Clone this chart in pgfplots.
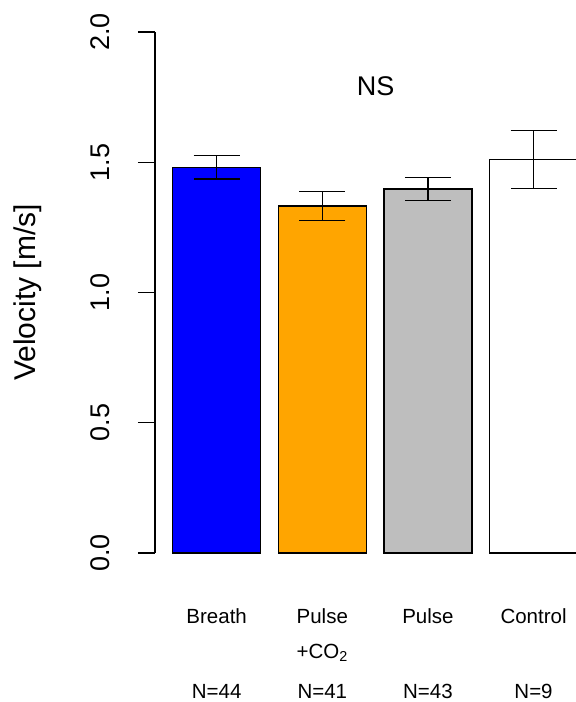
\documentclass[border=0pt]{standalone}
\usepackage{pgfplots}
\pgfplotsset{compat=1.18}
\usepackage{fontspec}
\setmainfont{Liberation Sans}
\definecolor{rorange}{HTML}{FFA500}
\definecolor{rgray}{HTML}{BEBEBE}
\begin{document}
\begin{tikzpicture}[x=1pt,y=1pt]
\useasboundingbox (0,0) rectangle (576,702);
\begin{axis}[
  at={(155pt,149pt)}, anchor=south west,
  scale only axis, width=421pt, height=521pt,
  xmin=-0.584, xmax=3.402, ymin=0, ymax=2,
  clip=false,
  axis x line=none,
  axis y line*=left,
  axis line style={line width=1.3pt},
  ytick={0,0.5,1,1.5,2},
  yticklabels={0.0,0.5,1.0,1.5,2.0},
  major tick length=17pt,
  tick align=outside,
  tick style={line width=1.3pt, black},
  /pgf/number format/assume math mode=true,
  yticklabel style={rotate=90, anchor=base, yshift=28pt, inner sep=0pt, font=\fontsize{27}{30}\selectfont},
  ylabel={Velocity [m/s]},
  ylabel style={at={(axis description cs:-0.284,0.5)}, anchor=base, rotate=0, inner sep=0pt, font=\fontsize{30}{33}\selectfont},
  bar width=0.833,
  error bars/y dir=both, error bars/y explicit,
  error bars/error mark=|,
  error bars/error mark options={mark size=23pt, line width=1.3pt, black},
  error bars/error bar style={line width=1.3pt, black},
]
\addplot[ybar, bar shift=0pt, fill=blue, draw=black, line width=1.3pt] coordinates {(0,1.481) +- (0,0.045)};
\addplot[ybar, bar shift=0pt, fill=rorange, draw=black, line width=1.3pt] coordinates {(1,1.332) +- (0,0.056)};
\addplot[ybar, bar shift=0pt, fill=rgray, draw=black, line width=1.3pt] coordinates {(2,1.397) +- (0,0.044)};
\addplot[ybar, bar shift=0pt, fill=white, draw=black, line width=1.3pt] coordinates {(3,1.510) +- (0,0.112)};
\node[anchor=base, font=\fontsize{27}{30}\selectfont] at (axis cs:1.504,1.757) {NS};
\node[anchor=base, font=\fontsize{20.5}{24}\selectfont] at ([yshift=-70.3pt]axis cs:0,0) {Breath};
\node[anchor=base, font=\fontsize{20.5}{24}\selectfont] at ([yshift=-70.3pt]axis cs:1,0) {Pulse};
\node[anchor=base, font=\fontsize{20.5}{24}\selectfont] at ([yshift=-70.3pt]axis cs:2,0) {Pulse};
\node[anchor=base, font=\fontsize{20.5}{24}\selectfont] at ([yshift=-70.3pt]axis cs:3,0) {Control};
\node[anchor=base, font=\fontsize{20.5}{24}\selectfont] at ([yshift=-105pt]axis cs:1,0) {+CO\textsubscript{2}};
\node[anchor=base, font=\fontsize{20.5}{24}\selectfont] at ([yshift=-145pt]axis cs:0,0) {N=44};
\node[anchor=base, font=\fontsize{20.5}{24}\selectfont] at ([yshift=-145pt]axis cs:1,0) {N=41};
\node[anchor=base, font=\fontsize{20.5}{24}\selectfont] at ([yshift=-145pt]axis cs:2,0) {N=43};
\node[anchor=base, font=\fontsize{20.5}{24}\selectfont] at ([yshift=-145pt]axis cs:3,0) {N=9};
\end{axis}
\end{tikzpicture}
\end{document}
